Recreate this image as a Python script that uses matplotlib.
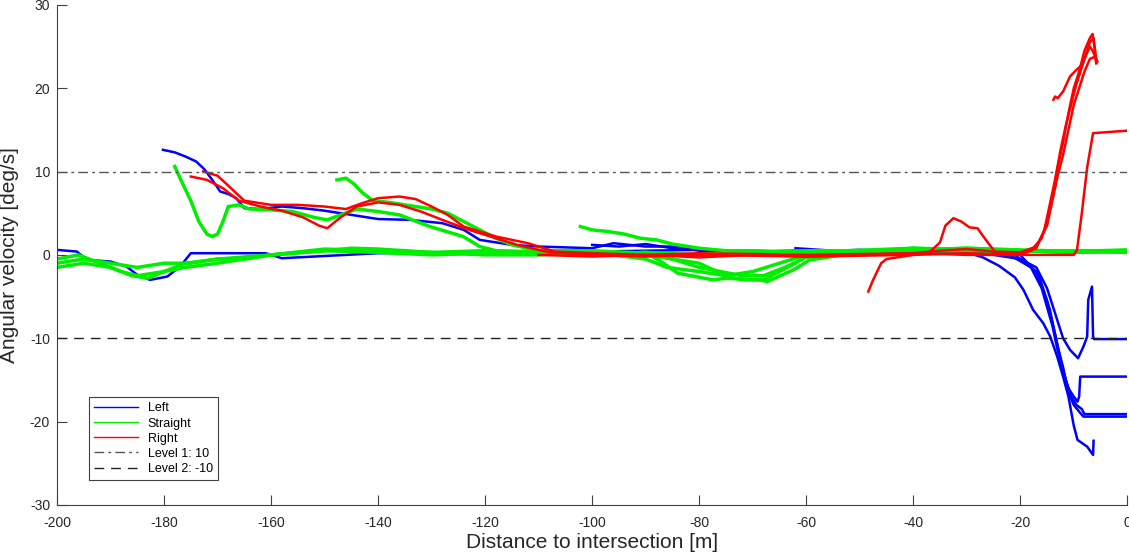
import matplotlib.pyplot as plt

plt.rcParams['font.family'] = ['Liberation Sans', 'DejaVu Sans']
plt.rcParams['axes.unicode_minus'] = False

# ---- Left (blue) traces ----
left1_x = [-200, -196.3, -194.4, -190, -187, -185, -182.6, -179.4, -177, -175, -171, -166, -161, -158, -152, -146, -140, -130,
           -120, -110, -100, -90, -80, -70, -60, -50, -40, -30, -25, -20, -17, -15, -13, -12, -10.7, -9.2, -8.2, -7.5,
           -7.3, -6.6, -6.4, -6.2, 0]
left1_y = [0.6, 0.4, -0.6, -0.8, -1.4, -2.4, -3.0, -2.6, -1.4, 0.2, 0.2, 0.2, 0.2, -0.4, -0.2, 0.0, 0.2, 0.3,
           0.3, 0.5, 0.4, 0.5, 0.6, 0.4, 0.5, 0.4, 0.5, 0.3, 0.0, -0.5, -1.5, -4.0, -8.0, -10.0, -11.4, -12.4, -11.0, -9.8,
           -5.4, -3.8, -9.8, -10.1, -10.1]

left2_x = [-180.2, -178, -176, -174, -172.5, -171, -169.5, -168, -166.5, -165, -162, -158, -154, -150, -145, -140, -134,
           -128, -124, -121, -115, -110, -100, -96, -90, -85, -80, -70, -60, -50, -40, -30, -27, -24, -21, -19.4, -17.6,
           -15.7, -14.4, -13.1, -12, -11, -10, -9.3, -7.5, -6.4, -6.3]
left2_y = [12.6, 12.3, 11.8, 11.2, 10.3, 9.0, 7.6, 7.3, 6.8, 5.6, 5.5, 5.8, 5.6, 5.3, 4.8, 4.3, 4.2,
           3.8, 3.0, 1.8, 1.2, 1.0, 0.8, 1.4, 1.0, 1.0, 0.5, 0.5, 0.3, 0.5, 0.4, 0.3, -0.3, -1.3, -2.7, -4.2, -6.6,
           -8.2, -9.8, -12.2, -14.6, -17.0, -20.5, -22.2, -23.0, -24.0, -22.3]

left3_x = [-100, -95, -90, -85, -80, -70, -60, -50, -40, -30, -22, -18, -16, -14, -13, -12, -11, -10, -9.3, -9, -8.8, 0]
left3_y = [1.2, 1.0, 1.3, 0.8, 0.6, 0.4, 0.5, 0.3, 0.4, 0.5, 0.0, -1.5, -4.0, -8.5, -11.5, -14.0, -16.0, -17.0, -17.6,
           -17.0, -14.6, -14.6]

left4_x = [-62, -55, -50, -40, -30, -25, -21, -17, -15, -13.5, -12.5, -11.5, -10.5, -9.5, -8.5, -8, 0]
left4_y = [0.8, 0.5, 0.6, 0.4, 0.5, 0.3, 0.0, -2.0, -5.5, -9.5, -12.5, -15.0, -17.0, -18.0, -18.5, -19.1, -19.1]

left5_x = [-45, -40, -35, -30, -25, -20, -16.5, -14.5, -13, -12, -11, -10, -9, -8.2, 0]
left5_y = [0.4, 0.5, 0.3, 0.4, 0.2, 0.0, -2.5, -6.5, -11.0, -13.5, -16.5, -18.0, -18.8, -19.4, -19.4]

# ---- Straight (green) traces ----
straight1_x = [-200, -196, -192, -188, -185, -180, -176, -170, -160, -150, -140, -130, -120, -110, -100, -90, -80, -70,
               -60, -40, -30, -20, -10, 0]
straight1_y = [-0.5, 0.0, -1.0, -2.0, -2.5, -2.0, -1.0, -0.5, 0.0, 0.5, 0.3, 0.0, 0.2, 0.3, 0.0, 0.3, 0.0, 0.3,
               0.5, 0.5, 0.8, 0.5, 0.3, 0.5]

straight2_x = [-200, -195, -190, -186, -183, -180, -176, -170, -160, -150, -140, -130, -120, -110, -100, -90, -86, -80,
               -75, -70, -65, -60, -50, -40, -30, -20, 0]
straight2_y = [-1.5, -1.0, -1.5, -2.5, -2.8, -2.0, -1.5, -1.0, 0.0, 0.7, 0.5, 0.3, 0.0, 0.0, 0.3, -0.5, -1.5, -2.0,
               -2.5, -2.0, -1.0, 0.0, 0.3, 0.5, 0.5, 0.5, 0.5]

straight3_x = [-200, -195, -190, -185, -180, -175, -170, -165, -160, -150, -145, -140, -130, -120, -100, -90, -85, -80,
               -75, -72, -68, -65, -62, -60, -50, -40, -30, -20, -10, 0]
straight3_y = [-1.0, -0.5, -1.0, -1.5, -1.0, -1.0, -0.5, -0.5, 0.0, 0.5, 0.8, 0.7, 0.3, 0.5, 0.2, 0.0, -0.5, -1.0,
               -2.5, -3.0, -3.0, -2.0, -1.0, 0.0, 0.4, 0.6, 0.8, 0.6, 0.4, 0.6]

straight4_x = [-178, -176.5, -175, -173.5, -172, -171, -170, -169, -168, -166, -164, -160, -156, -152, -149.5, -147,
               -144, -140, -136, -132, -130.3, -124.1, -121, -118, -110, -100, -90, -86.7, -84, -77.4, -75, -68.6, -67.3,
               -62.4, -59.3, -50, -40, -30, -20, -10, 0]
straight4_y = [10.6, 8.5, 6.5, 4.0, 2.5, 2.2, 2.5, 4.0, 5.8, 6.0, 5.5, 5.4, 5.2, 4.5, 4.2, 4.8,
               5.5, 5.2, 4.8, 3.8, 3.4, 2.2, 1.0, 0.5, 0.3, 0.0, 0.3, -1.0, -2.2, -3.0, -2.8, -3.0, -3.2,
               -1.8, -0.6, 0.3, 0.8, 0.5, 0.5, 0.3, 0.5]

straight5_x = [-147.7, -146, -144.5, -143, -141, -138, -135, -130, -127, -124, -121, -118, -115, -110, -100, -90, -85,
               -80, -76, -72, -68, -64, -60, -50, -40, -20, 0]
straight5_y = [9.0, 9.2, 8.5, 7.5, 6.5, 6.3, 6.0, 5.5, 5.0, 4.0, 3.0, 2.0, 1.2, 0.5, 0.5, 0.2, -0.5,
               -1.5, -2.0, -2.5, -2.5, -1.5, -0.3, 0.3, 0.5, 0.5, 0.3]

straight6_x = [-102.2, -100, -97, -94, -91, -88, -85, -80, -75, -70, -60, -40, -20, 0]
straight6_y = [3.4, 3.0, 2.8, 2.5, 2.0, 1.8, 1.3, 0.8, 0.5, 0.5, 0.3, 0.8, 0.5, 0.5]

# ---- Right (red) traces ----
right1_x = [-175, -172, -169, -166, -162, -158, -154, -151, -149.5, -147, -144, -140, -136, -132, -128, -123, -118, -114,
            -108, -100, -90, -80, -60, -40, -30, -22, -18, -16, -15, -14, -13, -12, -11, -10, -9, -8, -7, -6.5, -6, -5.8]
right1_y = [9.4, 9.0, 8.0, 6.5, 5.8, 5.3, 4.5, 3.5, 3.2, 4.5, 5.8, 6.3, 6.0, 5.2, 4.2, 3.0, 2.0, 1.2,
            0.3, 0.0, -0.2, 0.0, -0.2, 0.0, 0.2, 0.0, 0.5, 2.0, 4.0, 7.0, 10.5, 13.5, 17.0, 20.0, 22.0, 24.5, 26.0, 26.5,
            24.5, 23.0]

right2_x = [-172.7, -170, -168, -165, -160, -155, -150, -146, -143, -140, -136, -133, -130, -127, -124, -118, -112, -107,
            -100, -90, -80, -60, -40, -30, -20, -17, -15.5, -14.5, -13.5, -12.5, -11.5, -10.5, -9.5, -8.5, -7.5, -7,
            -6.3, -6, -5.8]
right2_y = [10.0, 9.5, 8.3, 6.5, 6.0, 6.0, 5.8, 5.5, 6.2, 6.8, 7.0, 6.7, 5.8, 4.8, 3.4, 2.2, 1.4, 0.4,
            0.2, 0.0, 0.2, 0.0, 0.2, 0.0, 0.0, 0.8, 3.0, 6.0, 9.0, 12.5, 15.5, 18.0, 20.5, 22.5, 24.5, 25.5,
            26.0, 24.0, 23.5]

right3_x = [-48.4, -47.5, -46, -45, -40, -37, -35, -34, -32.5, -31, -29.5, -28, -27, -25.5, -24.5, -20, -15, -10,
            -9.4, -8.5, -7.5, -6.4, 0]
right3_y = [-4.4, -3.0, -1.0, -0.5, 0.0, 0.3, 1.5, 3.5, 4.4, 4.0, 3.3, 3.2, 2.3, 1.0, 0.2, 0.0, 0.0, 0.0,
            0.6, 5.0, 10.5, 14.6, 14.9]

right4_x = [-13.8, -13.5, -13, -12, -10.7, -9.5, -8.8, -8, -7, -6.5, -6, -5.6]
right4_y = [18.6, 19.0, 18.8, 19.6, 21.4, 22.2, 22.6, 23.5, 25.0, 24.5, 23.8, 23.2]

right5_x = [-110, -100, -90, -80, -70, -60, -50, -40, -35, -30, -25, -20, -17, -15, -14, -13, -12, -11, -10, -9, -8,
            -7, -6, -5.8]
right5_y = [0.0, -0.2, 0.0, -0.3, 0.0, -0.2, 0.0, 0.2, 0.5, 0.7, 0.4, 0.3, 1.0, 3.5, 6.5, 9.5, 12.0, 15.0, 18.0, 20.0,
            22.0, 23.5, 23.8, 23.0]

level1 = 10
level2 = -10

left_traces = [(left1_x, left1_y), (left2_x, left2_y), (left3_x, left3_y), (left4_x, left4_y), (left5_x, left5_y)]
straight_traces = [(straight1_x, straight1_y), (straight2_x, straight2_y), (straight3_x, straight3_y),
                   (straight4_x, straight4_y), (straight5_x, straight5_y), (straight6_x, straight6_y)]
right_traces = [(right1_x, right1_y), (right2_x, right2_y), (right3_x, right3_y), (right4_x, right4_y),
                (right5_x, right5_y)]

fig = plt.figure(figsize=(11.29, 5.57), dpi=100)
ax = fig.add_axes([0.0505, 0.0934, 0.948, 0.898])

for i, (x, y) in enumerate(left_traces):
    ax.plot(x, y, color='#0000ff', lw=1.8, label='Left' if i == 0 else None)
for i, (x, y) in enumerate(straight_traces):
    ax.plot(x, y, color='#00ee00', lw=2.5, label='Straight' if i == 0 else None)
for i, (x, y) in enumerate(right_traces):
    ax.plot(x, y, color='#ff0000', lw=1.8, label='Right' if i == 0 else None)

ax.axhline(level1, color='#555555', lw=1.0, linestyle=(0, (7, 3, 2, 3)), label='Level 1: 10')
ax.axhline(level2, color='#222222', lw=1.0, linestyle=(0, (7, 5)), label='Level 2: -10')

ax.set_xlim(-200, 0)
ax.set_ylim(-30, 30)
ax.set_xticks(range(-200, 1, 20))
ax.set_yticks(range(-30, 31, 10))
ax.spines['top'].set_visible(False)
ax.spines['right'].set_visible(False)
for s in ['left', 'bottom']:
    ax.spines[s].set_color('#404040')
ax.tick_params(direction='in', length=7, width=0.8, colors='#404040', labelsize=10, labelcolor='#262626')
ax.tick_params(axis='x', pad=8)
ax.tick_params(axis='y', pad=5)

ax.set_xlabel('Distance to intersection [m]', fontsize=15, color='#262626', labelpad=2)
ax.set_ylabel('Angular velocity [deg/s]', fontsize=15, color='#262626', labelpad=8)

leg = ax.legend(loc='lower left', bbox_to_anchor=(0.03, 0.05), fontsize=9, frameon=True, fancybox=False,
                edgecolor='#404040', framealpha=1, borderaxespad=0, handlelength=3.5, labelspacing=0.25,
                borderpad=0.4)
leg.get_frame().set_linewidth(0.8)
for h in leg.get_lines():
    h.set_linewidth(1.0)

fig.savefig('out.png', dpi=100)
